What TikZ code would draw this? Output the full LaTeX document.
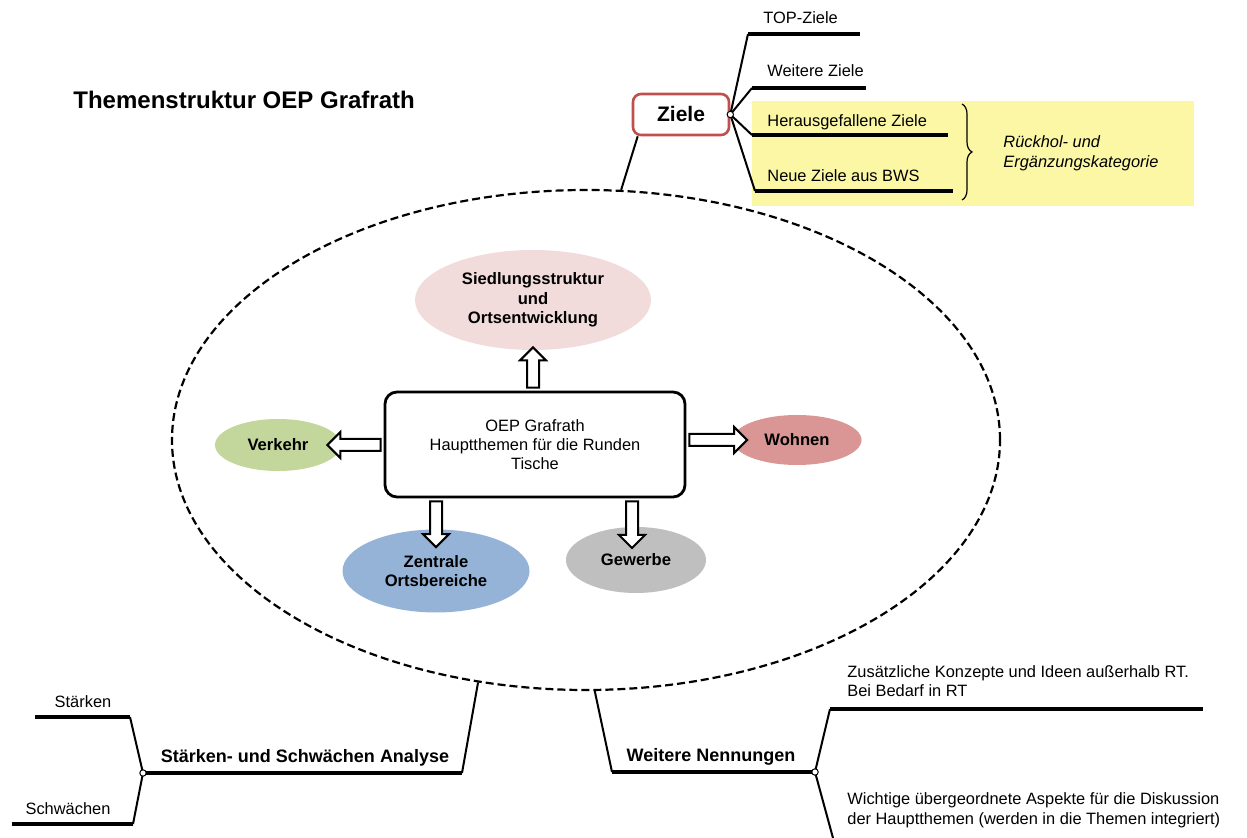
\documentclass[tikz,border=0pt]{standalone}
\usepackage{fontspec}
\setmainfont{Liberation Sans}
\usetikzlibrary{arrows.meta,positioning,calc,shapes.geometric,shapes.arrows,decorations.pathreplacing}
\definecolor{siedfarbe}{RGB}{242,220,219}
\definecolor{verkehrfarbe}{RGB}{195,214,155}
\definecolor{wohnfarbe}{RGB}{217,150,148}
\definecolor{zentralfarbe}{RGB}{149,179,215}
\definecolor{gewerbefarbe}{RGB}{191,191,191}
\definecolor{zielrot}{RGB}{192,80,77}
\definecolor{zielgelb}{RGB}{252,247,165}
\newcommand{\hohl}[2]{\path let \p1=($(#2)-(#1)$),\n1={veclen(\x1,\y1)},\n2={atan2(\y1,\x1)} in node[hohlpfeil,minimum height=\n1,rotate=\n2] at ($(#1)!0.5!(#2)$) {};}

\begin{document}
\begin{tikzpicture}[x=0.5pt,y=-0.5pt,
  txt/.style={font=\fontsize{8.2}{9.8}\selectfont,inner sep=0pt},
  fett/.style={font=\fontsize{9}{11}\selectfont\bfseries,inner sep=0pt},
  thema/.style={ellipse,inner sep=0pt,align=center,font=\fontsize{8.3}{9.8}\selectfont\bfseries},
  ast/.style={line width=1pt},
  strich/.style={line width=1.7pt},
  knoten/.style={circle,draw,fill=white,inner sep=0pt,minimum size=3.2pt,line width=0.5pt},
  hohlpfeil/.style={single arrow,draw,fill=white,line width=1pt,inner xsep=0pt,inner ysep=2.5pt,single arrow head extend=3.5pt}]
\useasboundingbox (0,0) rectangle (1247,838);
\fill[zielgelb] (752,101) rectangle (1194,206);
\node[font=\fontsize{12}{14}\selectfont\bfseries,anchor=west,inner sep=0pt] (titel) at (73,100) {Themenstruktur OEP Grafrath};
\node[ellipse,draw,dash pattern=on 4pt off 2pt,line width=1.1pt,minimum width=414pt,minimum height=250pt] (rahmen) at (586,440) {};

\node[draw,line width=1.4pt,rounded corners=6pt,minimum width=150pt,minimum height=52.5pt,align=center,font=\fontsize{8.2}{9.6}\selectfont] (hub) at (535,444.5) {OEP Grafrath\\Hauptthemen für die Runden\\Tische};
\node[thema,fill=siedfarbe,minimum width=118pt,minimum height=50pt] (sied) at (533,300) {Siedlungsstruktur\\und\\Ortsentwicklung};
\node[thema,fill=verkehrfarbe,minimum width=63pt,minimum height=26pt] (verkehr) at (278,445) {Verkehr};
\node[thema,fill=wohnfarbe,minimum width=64.5pt,minimum height=25pt] (wohnen) at (797,440) {Wohnen};
\node[thema,fill=zentralfarbe,minimum width=93.5pt,minimum height=41.5pt] (zentral) at (436,571) {Zentrale\\Ortsbereiche};
\node[thema,fill=gewerbefarbe,minimum width=70pt,minimum height=33pt] (gewerbe) at (636,560) {Gewerbe};

\coordinate (vk) at ($(verkehr.east)+(-11,0)$);
\coordinate (wk) at ($(wohnen.west)+(12,0)$);
\coordinate (zk1) at ($(zentral.north)+(0,15)$);
\coordinate (gk1) at (632,545);
\hohl{hub.north -| sied}{sied.south}
\hohl{hub.west |- verkehr}{vk}
\hohl{hub.east |- wohnen}{wk}
\hohl{hub.south -| zentral}{zk1}
\hohl{hub.south -| gk1}{gk1}

\node[draw=zielrot,line width=1.3pt,rounded corners=4pt,minimum width=48pt,minimum height=20.5pt,font=\fontsize{10.5}{12}\selectfont\bfseries] (ziele) at (681,114.5) {Ziele};
\draw[ast] ($(ziele.south west)+(6,0)$) -- (rahmen.82);
\draw[ast] (ziele.east) -- (748,34);
\draw[strich] (748,34) -- (860,34);
\draw[ast] (ziele.east) -- (752,88);
\draw[strich] (752,88) -- (866,88);
\draw[ast] (ziele.east) -- (752,135);
\draw[strich] (752,135) -- (948,135);
\draw[ast] (ziele.east) -- (755,191);
\draw[strich] (755,191) -- (953,191);
\node[knoten] (zk) at (ziele.east) {};
\node[txt,anchor=west] (top) at (763,18) {TOP-Ziele};
\node[txt,anchor=west] (weitere) at (767,71) {Weitere Ziele};
\node[txt,anchor=west] (heraus) at (767,122) {Herausgefallene Ziele};
\node[txt,anchor=west] (neue) at (767,176) {Neue Ziele aus BWS};
\draw[decorate,decoration={brace,amplitude=5pt},line width=0.6pt] (962,104) -- (962,200);
\node[txt,anchor=west,align=left,font=\fontsize{8.2}{9.8}\selectfont\itshape] (kat) at (1003,153) {Rückhol- und\\Ergänzungskategorie};

\draw[ast] (rahmen.246) -- (462,773);
\draw[strich] (462,773) -- (143,773);
\draw[ast] (143,773) -- (130,717);
\draw[strich] (130,717) -- (35,717);
\draw[ast] (143,773) -- (133,824);
\draw[strich] (133,824) -- (12,824);
\node[knoten] (sk) at (143,773) {};
\node[txt] (staerken) at (83,702) {Stärken};
\node[txt] (schwaechen) at (68,809) {Schwächen};
\node[fett] (analyse) at (305,758) {Stärken- und Schwächen Analyse};

\draw[ast] (rahmen.272) -- (612,772);
\draw[strich] (612,772) -- (815,772);
\draw[ast] (815,772) -- (830,709);
\draw[strich] (830,709) -- (1203,709);
\draw[ast] (815,772) -- (833,838);
\node[knoten] (nk) at (815,772) {};
\node[fett] (nennungen) at (711,757) {Weitere Nennungen};
\node[txt,anchor=west,align=left] (zusatz) at (847,681) {Zusätzliche Konzepte und Ideen außerhalb RT.\\Bei Bedarf in RT};
\node[txt,anchor=west,align=left] (wichtig) at (847,810) {Wichtige übergeordnete Aspekte für die Diskussion\\der Hauptthemen (werden in die Themen integriert)};
\end{tikzpicture}
\end{document}
